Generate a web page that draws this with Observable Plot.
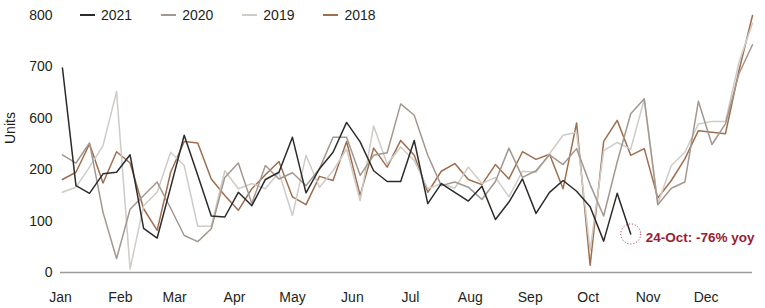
<!DOCTYPE html>
<html><head><meta charset="utf-8">
<script src="https://cdn.jsdelivr.net/npm/d3@7"></script>
<script src="https://cdn.jsdelivr.net/npm/@observablehq/plot@0.6"></script>
<style>
body{margin:0;background:#fff;}
#wrap{position:relative;width:765px;height:308px;font-family:"Liberation Sans",Arial,sans-serif;}
#legend{position:absolute;left:80px;top:6px;display:flex;font-size:14px;color:#231f20;line-height:18px}
.item{display:flex;align-items:center;margin-right:29px}
.sw{width:15px;height:2px;margin-right:6px}
</style></head><body><div id="wrap"><div id="legend"></div></div>
<script>
const years = ["2021", "2020", "2019", "2018"];
const colors = ["#2b2b2b", "#a4978e", "#cfcbc6", "#9e6e4e"];
const monthLabels = ["Jan","Feb","Mar","Apr","May","Jun","Jul","Aug","Sep","Oct","Nov","Dec"];
const monthStartDays = [0,31,59,90,120,151,181,212,243,273,304,334];
const yTicks = [0,100,200,300,400,500];
const yTickLabels = ["0","100","200","600","700","800"];
const annotationText = "24-Oct: -76% yoy";

const v2021 = [398,169,154,192,195,229,86,67,166,267,189,110,108,156,130,181,195,263,155,202,234,292,254,198,177,177,257,134,173,156,139,168,103,137,182,115,156,179,158,128,61,154,75];
const v2020 = [229,213,252,117,27,123,150,176,125,72,60,85,185,213,134,208,182,194,169,202,263,263,189,228,233,328,306,228,169,176,166,142,177,242,185,198,229,210,241,171,110,215,309,338,132,164,176,333,249,289,387,443];
const v2019 = [156,166,205,247,352,7,130,156,234,208,90,90,198,163,173,163,195,111,228,166,198,240,140,285,211,244,218,163,173,164,205,173,185,147,197,195,231,267,273,43,237,253,240,337,134,208,234,289,294,294,409,485];
const v2018 = [181,195,250,174,235,213,124,82,195,255,252,182,150,121,163,190,216,147,132,187,179,255,150,242,205,257,228,156,197,212,181,171,210,182,235,220,230,163,291,14,255,296,228,241,145,179,221,276,273,270,393,500];

const series = [v2021, v2020, v2019, v2018];
const rows = years.flatMap((y, k) => series[k].map((v, i) => ({year: y, week: i, value: v})));
const dayOf = d => 1 + 7 * d.week;
const last2021 = rows.filter(d => d.year === "2021").at(-1);
const red = "#9b1c31";

const chart = Plot.plot({
  width: 765, height: 308,
  marginTop: 15, marginBottom: 36, marginLeft: 60, marginRight: 13,
  style: {fontFamily: "'Liberation Sans',Arial,sans-serif", fontSize: "14px", color: "#231f20", background: "white"},
  x: {domain: [0, 358]},
  y: {domain: [0, 500]},
  color: {domain: years, range: colors},
  marks: [
    Plot.axisY({ticks: yTicks, tickFormat: (d, i) => yTickLabels[i], tickSize: 0, tickPadding: 8, label: null, fontSize: 14}),
    Plot.axisX({ticks: monthStartDays, tickFormat: (d, i) => monthLabels[i], tickSize: 0, tickPadding: 20, label: null, fontSize: 14}),
    Plot.text(["Units"], {frameAnchor: "left", dx: -50, rotate: -90, fontSize: 14, fill: "#231f20"}),
    Plot.ruleY([0], {stroke: "#9a9a9a", strokeWidth: 1.5}),
    ...[3, 2, 1, 0].map(k => Plot.line(rows.filter(d => d.year === years[k]), {x: dayOf, y: "value", stroke: colors[k], strokeWidth: 1.5})),
    Plot.dot([last2021], {x: dayOf, y: "value", r: 10, stroke: red, strokeWidth: 1, strokeDasharray: "1,2", fill: "none"}),
    Plot.text([last2021], {x: dayOf, y: "value", text: () => annotationText, textAnchor: "start", dx: 15, dy: 4, fill: red, fontWeight: "bold", fontSize: 13.5})
  ]
});
document.getElementById("wrap").appendChild(chart);

const legend = document.getElementById("legend");
years.forEach((y, k) => {
  const it = document.createElement("div"); it.className = "item";
  const sw = document.createElement("span"); sw.className = "sw"; sw.style.background = colors[k];
  const t = document.createElement("span"); t.textContent = y;
  it.append(sw, t); legend.append(it);
});
</script></body></html>
